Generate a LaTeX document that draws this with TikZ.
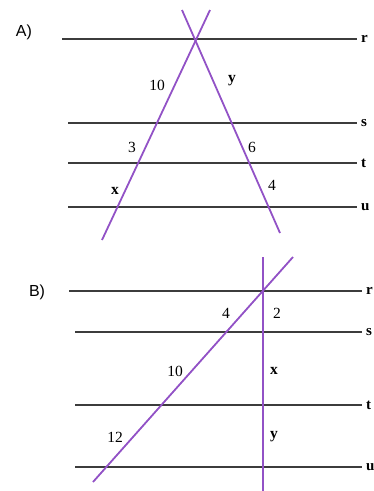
\documentclass[tikz,border=0pt]{standalone}
\usepackage{fontspec}
\setmainfont{Liberation Serif}
\newfontfamily\etiqfont{Liberation Sans}
\usetikzlibrary{positioning}
\definecolor{recta}{RGB}{60,60,60}
\definecolor{morado}{RGB}{146,82,198}

\begin{document}
\begin{tikzpicture}[x=1pt, y=-1pt,
  paralela/.style={draw=recta, line width=2pt},
  secante/.style={draw=morado, line width=1.8pt},
  nombre/.style={font=\bfseries\fontsize{15}{15}\selectfont, anchor=west, inner sep=1pt},
  medida/.style={font=\fontsize{15.5}{15}\selectfont, inner sep=0pt},
  titulo/.style={font=\etiqfont\fontsize{16}{16}\selectfont, inner sep=0pt},
]
\useasboundingbox (0,0) rectangle (374,491);
% parte A
\node[titulo] (tA) at (24,32) {A)};
\foreach \n/\y/\xa in {r/39/62, s/123/68, t/163/68, u/207/68} {
  \coordinate (A\n i) at (\xa,\y);
  \coordinate (A\n d) at (357,\y);
  \draw[paralela] (A\n i) -- (A\n d);
  \node[nombre] (lA\n) at (360,\y) {\n};
}
\coordinate (Aizq1) at (210,10);
\coordinate (Aizq2) at (102,240);
\coordinate (Ader1) at (182,10);
\coordinate (Ader2) at (280,233);
\draw[secante] (Aizq1) -- (Aizq2);
\draw[secante] (Ader1) -- (Ader2);
\node[medida] (m10) at (157,85) {10};
\node[medida] (my) at (232,81) {\textbf{y}};
\node[medida] (m3) at (132,147) {3};
\node[medida] (m6) at (252,147) {6};
\node[medida] (mx) at (115,191) {\textbf{x}};
\node[medida] (m4) at (272,185) {4};
% parte B
\node[titulo] (tB) at (37,292) {B)};
\foreach \n/\y/\xa in {r/291/69, s/332/75, t/405/75, u/467/75} {
  \coordinate (B\n i) at (\xa,\y);
  \coordinate (B\n d) at (362,\y);
  \draw[paralela] (B\n i) -- (B\n d);
  \node[nombre] (lB\n) at (365,\y) {\n};
}
\coordinate (Bver1) at (263,257);
\coordinate (Bver2) at (263,491);
\coordinate (Bobl1) at (293,257);
\coordinate (Bobl2) at (93,482);
\draw[secante] (Bver1) -- (Bver2);
\draw[secante] (Bobl1) -- (Bobl2);
\node[medida] (n4) at (226,313) {4};
\node[medida] (n2) at (277,313) {2};
\node[medida] (n10) at (175,371) {10};
\node[medida] (nx) at (274,371) {\textbf{x}};
\node[medida] (n12) at (115,437) {12};
\node[medida] (ny) at (274,437) {\textbf{y}};
\end{tikzpicture}
\end{document}
